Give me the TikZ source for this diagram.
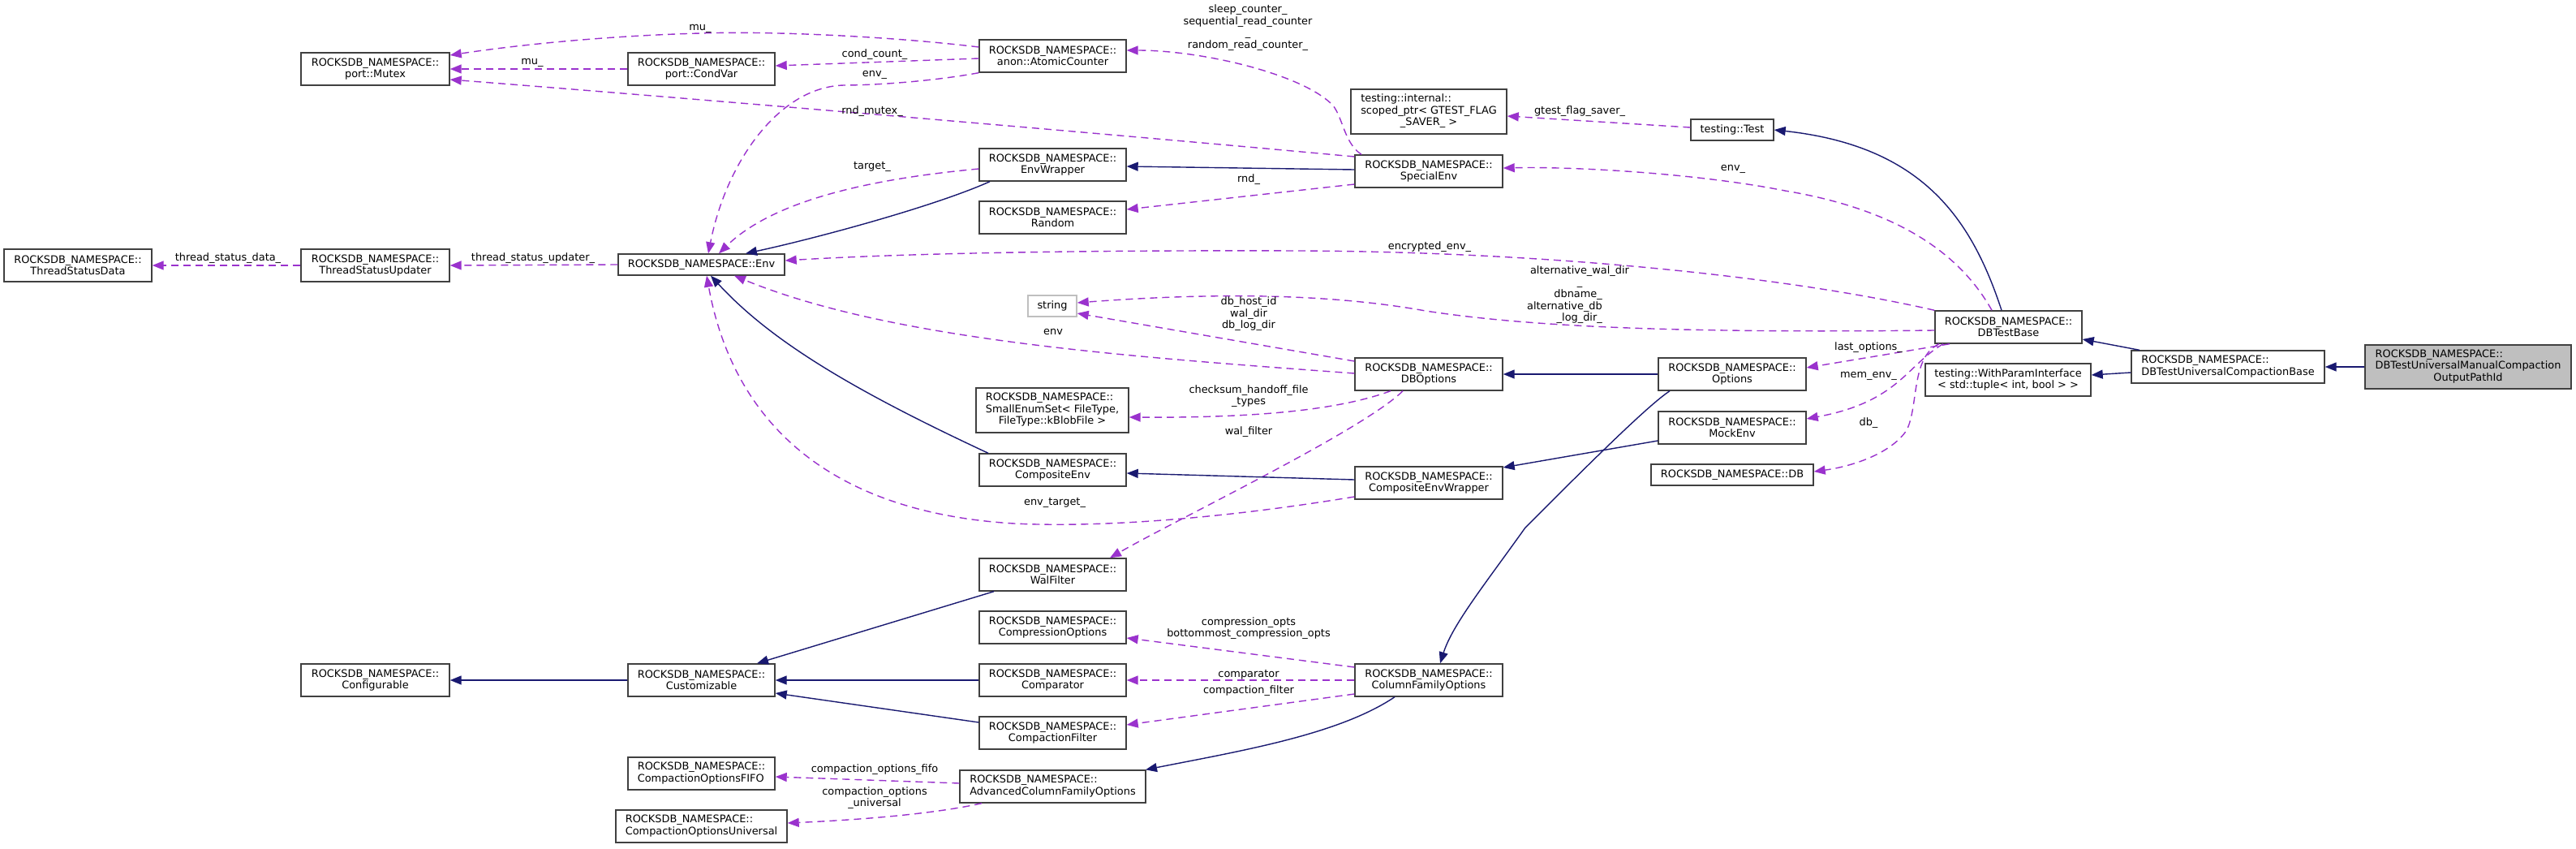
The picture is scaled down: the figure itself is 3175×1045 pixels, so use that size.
\documentclass[tikz,border=0pt]{standalone}
\usepackage{fontspec}
\setmainfont{DejaVu Sans}
\usetikzlibrary{arrows.meta,calc}
\definecolor{usecol}{HTML}{9A32CD}
\definecolor{inhcol}{HTML}{191970}
\definecolor{boxcol}{HTML}{404040}
\definecolor{greyfill}{HTML}{BFBFBF}
\newcommand\fsz{\fontsize{12.9pt}{14.5pt}\selectfont}
\newcommand\lft[1]{\begin{tabular}{@{}l@{}}#1\end{tabular}}
\newcommand\cln[1]{\multicolumn{1}{@{}c@{}}{#1}}
\tikzset{
  cls/.style={draw=boxcol, line width=1.4pt, fill=white, inner sep=0pt, font=\fsz, align=center, minimum width=181pt, minimum height=40pt},
  lbl/.style={inner sep=0pt, font=\fsz, align=center},
  use/.style={draw=usecol, line width=1.4pt, dash pattern=on 9pt off 6pt, -{Triangle[length=14pt,width=11pt]}},
  inh/.style={draw=inhcol, line width=1.4pt, -{Triangle[length=14pt,width=11pt]}},
}
\begin{document}
\begin{tikzpicture}[x=1pt,y=-1pt]
\useasboundingbox (0,0) rectangle (3175,1045);
% nodes
\node[cls,minimum width=182] (tsd) at (96,327) {ROCKSDB\_NAMESPACE::\\ThreadStatusData};
\node[cls,minimum width=183] (tsu) at (462.5,327) {ROCKSDB\_NAMESPACE::\\ThreadStatusUpdater};
\node[cls,minimum width=183] (mutex) at (462.5,85) {ROCKSDB\_NAMESPACE::\\port::Mutex};
\node[cls] (condvar) at (864.5,85) {ROCKSDB\_NAMESPACE::\\port::CondVar};
\node[cls] (atomic) at (1297.5,69) {ROCKSDB\_NAMESPACE::\\anon::AtomicCounter};
\node[cls] (envw) at (1297.5,203) {ROCKSDB\_NAMESPACE::\\EnvWrapper};
\node[cls] (random) at (1297.5,268) {ROCKSDB\_NAMESPACE::\\Random};
\node[cls,minimum width=205,minimum height=26] (env) at (864.5,326) {ROCKSDB\_NAMESPACE::Env};
\node[cls,draw=greyfill,minimum width=60,minimum height=26] (string) at (1297,377) {string};
\node[cls,minimum width=188,minimum height=55] (smallenum) at (1297,505.5) {\lft{ROCKSDB\_NAMESPACE::\\SmallEnumSet< FileType,\\ \cln{FileType::kBlobFile >}}};
\node[cls] (compenv) at (1297.5,579) {ROCKSDB\_NAMESPACE::\\CompositeEnv};
\node[cls,minimum width=192,minimum height=55] (scoped) at (1761,137.5) {\lft{testing::internal::\\scoped\_ptr< GTEST\_FLAG\\ \cln{\_SAVER\_ >}}};
\node[cls,minimum width=102,minimum height=26] (test) at (2135,160) {testing::Test};
\node[cls,minimum width=182] (special) at (1761,211) {ROCKSDB\_NAMESPACE::\\SpecialEnv};
\node[cls,minimum width=182] (dboptions) at (1761,461) {ROCKSDB\_NAMESPACE::\\DBOptions};
\node[cls,minimum width=182] (cew) at (1761,595) {ROCKSDB\_NAMESPACE::\\CompositeEnvWrapper};
\node[cls] (walfilter) at (1297.5,708) {ROCKSDB\_NAMESPACE::\\WalFilter};
\node[cls] (compression) at (1297.5,773) {ROCKSDB\_NAMESPACE::\\CompressionOptions};
\node[cls] (comparator) at (1297.5,838) {ROCKSDB\_NAMESPACE::\\Comparator};
\node[cls] (compfilter) at (1297.5,903) {ROCKSDB\_NAMESPACE::\\CompactionFilter};
\node[cls] (customizable) at (864.5,838) {ROCKSDB\_NAMESPACE::\\Customizable};
\node[cls,minimum width=183] (configurable) at (462.5,838) {ROCKSDB\_NAMESPACE::\\Configurable};
\node[cls] (fifo) at (864.5,953) {\lft{ROCKSDB\_NAMESPACE::\\CompactionOptionsFIFO}};
\node[cls,minimum width=211] (universal) at (864.5,1018) {\lft{ROCKSDB\_NAMESPACE::\\CompactionOptionsUniversal}};
\node[cls,minimum width=229] (acfo) at (1297.5,969) {\lft{ROCKSDB\_NAMESPACE::\\AdvancedColumnFamilyOptions}};
\node[cls,minimum width=182] (cfo) at (1761,838) {ROCKSDB\_NAMESPACE::\\ColumnFamilyOptions};
\node[cls,minimum width=182] (options) at (2135,461) {ROCKSDB\_NAMESPACE::\\Options};
\node[cls,minimum width=182] (mockenv) at (2135,527) {ROCKSDB\_NAMESPACE::\\MockEnv};
\node[cls,minimum width=200,minimum height=26] (db) at (2135,585) {ROCKSDB\_NAMESPACE::DB};
\node[cls] (dbtestbase) at (2475.5,403) {ROCKSDB\_NAMESPACE::\\DBTestBase};
\node[cls,minimum width=204] (wpi) at (2475,468) {testing::WithParamInterface\\< std::tuple< int, bool > >};
\node[cls,minimum width=238] (dtucb) at (2746,452) {\lft{ROCKSDB\_NAMESPACE::\\DBTestUniversalCompactionBase}};
\node[cls,fill=greyfill,minimum width=254,minimum height=54] (main) at (3042,452) {\lft{ROCKSDB\_NAMESPACE::\\DBTestUniversalManualCompaction\\ \cln{OutputPathId}}};
% usage edges
\draw[use] (atomic.west |- 0,58) .. controls (1100,45) and (950,38) .. (863,41) .. controls (750,44) and (640,55) .. (mutex.east |- 0,68);
\draw[use] (condvar.west |- 0,85) -- (mutex.east |- 0,85);
\draw[use] (special.west |- 0,193) .. controls (1400,168) and (900,125) .. (mutex.east |- 0,98);
\draw[use] (atomic.west |- 0,72) -- (condvar.east |- 0,81);
\draw[use] (atomic.south west) .. controls (1150,100) and (1080,105) .. (1040,105) .. controls (960,107) and (895,200) .. (873,0 |- env.north);
\draw[use] (1678,0 |- special.north) .. controls (1655,175) and (1655,140) .. (1640,127) .. controls (1600,90) and (1480,62) .. (atomic.east |- 0,62);
\draw[use] (test.west |- 0,157) -- (scoped.east |- 0,143);
\draw[use] (envw.west |- 0,208) .. controls (1100,218) and (960,240) .. (886,0 |- env.north);
\draw[use] (special.west |- 0,227) -- (random.east |- 0,258);
\draw[use] (2455,0 |- dbtestbase.north) .. controls (2420,320) and (2350,260) .. (2200,235) .. controls (2100,215) and (1950,205) .. (special.east |- 0,207);
\draw[use] (dbtestbase.north west) .. controls (2200,340) and (1900,310) .. (1600,309) .. controls (1300,308) and (1100,313) .. (env.east |- 0,321);
\draw[use] (dbtestbase.west |- 0,407) .. controls (2100,410) and (1900,405) .. (1757,383) .. controls (1640,362) and (1500,360) .. (string.east |- 0,373);
\draw[use] (dboptions.west |- 0,445) -- (string.east |- 0,386);
\draw[use] (dboptions.west |- 0,460) .. controls (1400,440) and (1100,420) .. (905,0 |- env.south);
\draw[use] (1714,0 |- dboptions.south) .. controls (1650,505) and (1550,515) .. (smallenum.east |- 0,514);
\draw[use] (1729,0 |- dboptions.south) .. controls (1680,530) and (1450,640) .. (1368,0 |- walfilter.north);
\draw[use] (cew.west |- 0,612) .. controls (1500,640) and (1350,650) .. (1250,645) .. controls (1000,630) and (900,500) .. (871,0 |- env.south);
\draw[use] (2403,0 |- dbtestbase.south) -- (options.east |- 0,453);
\draw[use] (2395,0 |- dbtestbase.south) .. controls (2350,450) and (2340,495) .. (mockenv.east |- 0,516);
\draw[use] (2390,0 |- dbtestbase.south) .. controls (2355,440) and (2365,500) .. (2350,530) .. controls (2330,560) and (2280,575) .. (db.east |- 0,581);
\draw[use] (tsu.west) -- (tsd.east);
\draw[use] (env.west) -- (tsu.east);
\draw[use] (cfo.west |- 0,822) -- (compression.east |- 0,786);
\draw[use] (cfo.west) -- (comparator.east);
\draw[use] (cfo.west |- 0,855) -- (compfilter.east |- 0,893);
\draw[use] (acfo.west |- 0,965) -- (fifo.east |- 0,957);
\draw[use] (1210,0 |- acfo.south) .. controls (1150,1003) and (1060,1010) .. (universal.east |- 0,1014);
% inheritance edges
\draw[inh] (special.west |- 0,209) -- (envw.east |- 0,205);
\draw[inh] (1220,0 |- envw.south) .. controls (1150,255) and (1000,295) .. (919,0 |- env.north);
\draw[inh] (1218,0 |- compenv.north) .. controls (1050,480) and (950,420) .. (876,0 |- env.south);
\draw[inh] (cew.west |- 0,591) -- (compenv.east |- 0,583);
\draw[inh] (options.west) -- (dboptions.east);
\draw[inh] (2058,0 |- options.south) .. controls (2030,500) and (1950,580) .. (1880,650) .. controls (1830,720) and (1790,770) .. (1775,0 |- cfo.north);
\draw[inh] (mockenv.west |- 0,543) -- (cew.east |- 0,576);
\draw[inh] (2467,0 |- dbtestbase.north) .. controls (2430,270) and (2370,180) .. (test.east |- 0,160);
\draw[inh] (2637,0 |- dtucb.north) -- (dbtestbase.east |- 0,418);
\draw[inh] (dtucb.west |- 0,459) -- (wpi.east |- 0,462);
\draw[inh] (main.west) -- (dtucb.east);
\draw[inh] (customizable.west) -- (configurable.east);
\draw[inh] (1225,0 |- walfilter.south) -- (933,0 |- customizable.north);
\draw[inh] (comparator.west) -- (customizable.east);
\draw[inh] (compfilter.west |- 0,890) -- (customizable.east |- 0,854);
\draw[inh] (1719,0 |- cfo.south) .. controls (1650,905) and (1530,925) .. (1412,0 |- acfo.north);
% labels
\node[lbl] (lmu1) at (863,35) {mu\_};
\node[lbl] (lmu2) at (656,77) {mu\_};
\node[lbl] (lcond) at (1078,67) {cond\_count\_};
\node[lbl] (lenv1) at (1078,92) {env\_};
\node[lbl] (lrndm) at (1075,137) {rnd\_mutex\_};
\node[lbl] (ltarget) at (1075,205) {target\_};
\node[lbl] (lcnt) at (1538,34) {sleep\_counter\_\\sequential\_read\_counter\\\_\\random\_read\_counter\_};
\node[lbl] (lgtest) at (1947,137) {gtest\_flag\_saver\_};
\node[lbl] (lenv2) at (2136,208) {env\_};
\node[lbl] (lrnd) at (1539,221) {rnd\_};
\node[lbl] (lenc) at (1762,304) {encrypted\_env\_};
\node[lbl] (lalt1) at (1947,341) {alternative\_wal\_dir\\\_};
\node[lbl,align=right,anchor=east] (lalt2) at (1975,378) {dbname\_\\alternative\_db\\\_log\_dir\_};
\node[lbl] (ldbh) at (1539,387) {db\_host\_id\\wal\_dir\\db\_log\_dir};
\node[lbl] (lenv3) at (1298,409) {env};
\node[lbl] (lcheck) at (1539,488) {checksum\_handoff\_file\\\_types};
\node[lbl] (lwal) at (1539,532) {wal\_filter};
\node[lbl] (lenvt) at (1300,619) {env\_target\_};
\node[lbl] (llast) at (2303,428) {last\_options\_};
\node[lbl] (lmem) at (2303,463) {mem\_env\_};
\node[lbl] (ldb) at (2303,521) {db\_};
\node[lbl] (ltsd) at (281,318) {thread\_status\_data\_};
\node[lbl] (ltsu) at (657,318) {thread\_status\_updater\_};
\node[lbl] (lcomp) at (1539,774) {compression\_opts\\bottommost\_compression\_opts};
\node[lbl] (lcmp) at (1539,831) {comparator};
\node[lbl] (lcf) at (1539,851) {compaction\_filter};
\node[lbl] (lfifo) at (1078,948) {compaction\_options\_fifo};
\node[lbl] (luniv) at (1078,983) {compaction\_options\\\_universal};
\end{tikzpicture}
\end{document}
